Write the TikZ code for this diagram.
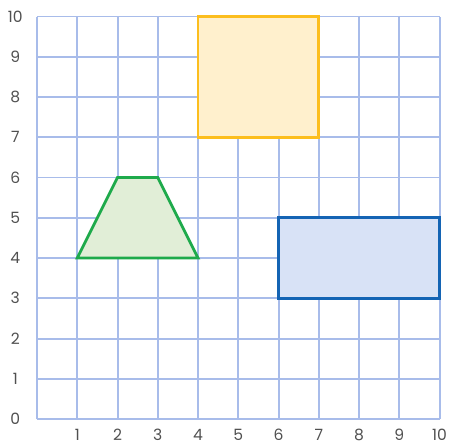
\documentclass[tikz,border=0pt]{standalone}
\usepackage{fontspec}
\setmainfont{Poppins}
\definecolor{gridblue}{RGB}{168,188,234}
\definecolor{labelgray}{RGB}{80,80,80}
\definecolor{sqline}{RGB}{252,190,30}
\definecolor{sqfill}{RGB}{255,240,205}
\definecolor{trline}{RGB}{30,170,75}
\definecolor{trfill}{RGB}{225,238,215}
\definecolor{rcline}{RGB}{20,100,180}
\definecolor{rcfill}{RGB}{216,226,246}
\tikzset{
  gridline/.style={draw=gridblue, line width=1.4pt},
  shapeline/.style={line width=2pt, line join=miter},
  axlabel/.style={text=labelgray, font=\fontsize{11}{13}\selectfont, inner sep=0pt}
}
\begin{document}
\begin{tikzpicture}
\useasboundingbox (-0.92,-0.67) rectangle (10.235,10.41);
\foreach \i in {0,...,10} {
  \draw[gridline] (\i,0) -- (\i,10);
  \draw[gridline] (0,\i) -- (10,\i);
}
\foreach \i in {0,...,10} {
  \node[axlabel] (yl\i) at (-0.54,\i) {\i};
}
\foreach \i in {1,...,10} {
  \node[axlabel] (xl\i) at (\i,-0.40) {\i};
}
\draw[shapeline, draw=sqline, fill=sqfill] (4,7) rectangle (7,10);
\draw[shapeline, draw=trline, fill=trfill] (1,4) -- (2,6) -- (3,6) -- (4,4) -- cycle;
\draw[shapeline, draw=rcline, fill=rcfill] (6,3) rectangle (10,5);
\end{tikzpicture}
\end{document}
